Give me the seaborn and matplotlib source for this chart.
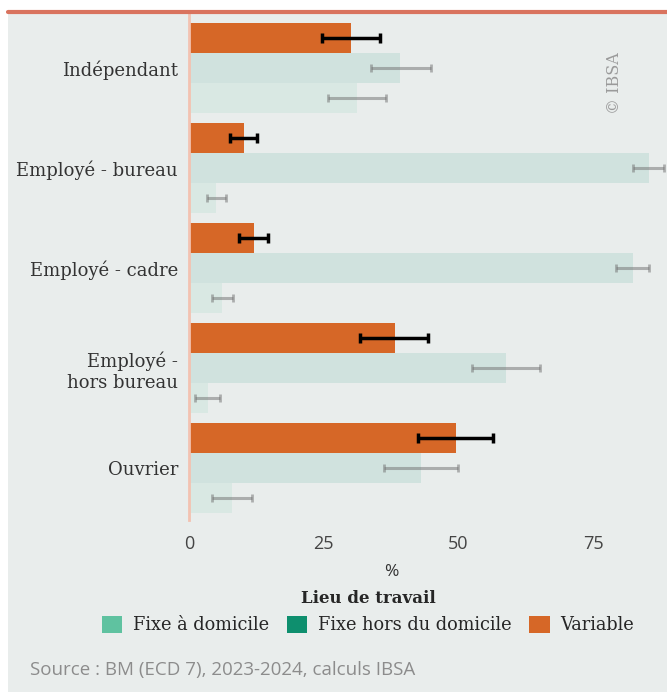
import numpy as np
import pandas as pd
import matplotlib
matplotlib.use("Agg")
import matplotlib.pyplot as plt
import matplotlib.patches as mpatches
import seaborn as sns

# Data (% of workers per workplace type)
categories = ["Indépendant", "Employé - bureau", "Employé - cadre", "Employé -\nhors bureau", "Ouvrier"]
lieux = ["Variable", "Fixe hors du domicile", "Fixe à domicile"]

variable = [30.0, 10.2, 12.1, 38.2, 49.5]
variable_lo = [24.7, 7.6, 9.3, 31.8, 42.5]
variable_hi = [35.4, 12.7, 14.7, 44.4, 56.5]

hors_domicile = [39.1, 85.3, 82.4, 58.8, 43.1]
hors_lo = [33.8, 82.4, 79.2, 52.6, 36.2]
hors_hi = [44.9, 88.1, 85.4, 65.1, 50.0]

domicile = [31.2, 5.1, 6.1, 3.5, 8.0]
domicile_lo = [25.8, 3.4, 4.3, 1.2, 4.3]
domicile_hi = [36.6, 6.9, 8.1, 5.8, 11.6]

legend_order = ["Fixe à domicile", "Fixe hors du domicile", "Variable"]
colors = {"Fixe à domicile": "#5fc2a0", "Fixe hors du domicile": "#0e8f6e", "Variable": "#d66727"}

BG = "#e9edec"


def build_frame():
    rows = []
    series = {"Variable": (variable, variable_lo, variable_hi),
              "Fixe hors du domicile": (hors_domicile, hors_lo, hors_hi),
              "Fixe à domicile": (domicile, domicile_lo, domicile_hi)}
    for lieu, (vals, lo, hi) in series.items():
        for cat, v, l, h in zip(categories, vals, lo, hi):
            rows.append({"categorie": cat, "lieu": lieu, "pct": v, "lo": l, "hi": h})
    return pd.DataFrame(rows)


def main():
    df = build_frame()
    sns.set_theme(style="white")
    plt.rcParams["font.family"] = ["DejaVu Sans"]

    fig = plt.figure(figsize=(6.67, 6.92), dpi=100)
    fig.patch.set_facecolor("white")
    # grey panel + red top rule
    fig.add_artist(mpatches.Rectangle((8 / 667, 0), 1, 1 - 13 / 692, transform=fig.transFigure,
                                      facecolor=BG, edgecolor="none", zorder=-10))
    fig.add_artist(plt.Line2D([8 / 667, 1], [1 - 12 / 692, 1 - 12 / 692], transform=fig.transFigure,
                              color="#d9735e", lw=3))

    ax = fig.add_axes([189 / 667, 1 - 520 / 692, 1 - 189 / 667, (520 - 14) / 692])
    ax.set_facecolor(BG)

    sns.barplot(data=df, y="categorie", x="pct", hue="lieu", hue_order=lieux,
                order=categories, palette=colors, orient="h", width=0.9,
                errorbar=None, legend=False, saturation=1, linewidth=0, ax=ax)

    for lieu, container in zip(lieux, ax.containers):
        sub = df[df["lieu"] == lieu].set_index("categorie").loc[categories]
        ys = [p.get_y() + p.get_height() / 2 for p in container.patches]
        xerr = [sub["pct"] - sub["lo"], sub["hi"] - sub["pct"]]
        if lieu == "Variable":
            for p in container.patches:
                p.set_alpha(1)
            ax.errorbar(sub["pct"], ys, xerr=xerr, fmt="none", ecolor="black",
                        elinewidth=2.5, capsize=3.5, capthick=2.5, zorder=5)
        else:
            for p in container.patches:
                p.set_alpha(0.11)
            ax.errorbar(sub["pct"], ys, xerr=xerr, fmt="none", ecolor="#6f6f6f",
                        elinewidth=2.2, capsize=3, capthick=2, alpha=0.5, zorder=5)

    ax.set_xlim(0, 88.7)
    ax.set_ylim(4.52, -0.54)
    ax.set_xticks([0, 25, 50, 75])
    ax.set_xticklabels(["0", "25", "50", "75"], fontfamily="Open Sans", fontsize=13, color="#444444")
    ax.set_yticks(range(len(categories)))
    ax.set_yticklabels(categories, fontfamily="DejaVu Serif", fontsize=13, color="#333333")
    ax.tick_params(axis="y", length=0, pad=8)
    ax.tick_params(axis="x", length=0, pad=11)
    ax.set_xlabel("")
    ax.set_ylabel("")
    for side in ["top", "right", "bottom"]:
        ax.spines[side].set_visible(False)
    ax.spines["left"].set_color("#f3c2b1")
    ax.spines["left"].set_linewidth(2)

    ax.text(0.89, 0.925, "© IBSA", transform=ax.transAxes, rotation=90, ha="center", va="top",
            fontfamily="DejaVu Serif", fontsize=11.5, color="#9a9a9a")

    fig.text(391 / 667, 1 - 572 / 692, "%", ha="center", va="center",
             fontfamily="Open Sans", fontsize=12.5, color="#333333")

    handles = [mpatches.Patch(facecolor=colors[l], edgecolor="none", label=l) for l in legend_order]
    leg = fig.legend(handles=handles, loc="center", bbox_to_anchor=(368 / 667, 1 - 612 / 692),
                     ncol=3, frameon=False, title="Lieu de travail",
                     prop={"family": "DejaVu Serif", "size": 12.8},
                     handlelength=1.15, handleheight=1.15, handletextpad=0.6, columnspacing=1.0)
    leg.get_title().set_fontfamily("DejaVu Serif")
    leg.get_title().set_fontweight("bold")
    leg.get_title().set_fontsize(12)

    fig.text(30 / 667, 1 - 670 / 692, "Source : BM (ECD 7), 2023-2024, calculs IBSA", ha="left",
             va="center", fontfamily="Open Sans", fontsize=13.5, color="#8c8c8c")

    fig.savefig("out.png", dpi=100, facecolor=fig.get_facecolor())


if __name__ == "__main__":
    main()
